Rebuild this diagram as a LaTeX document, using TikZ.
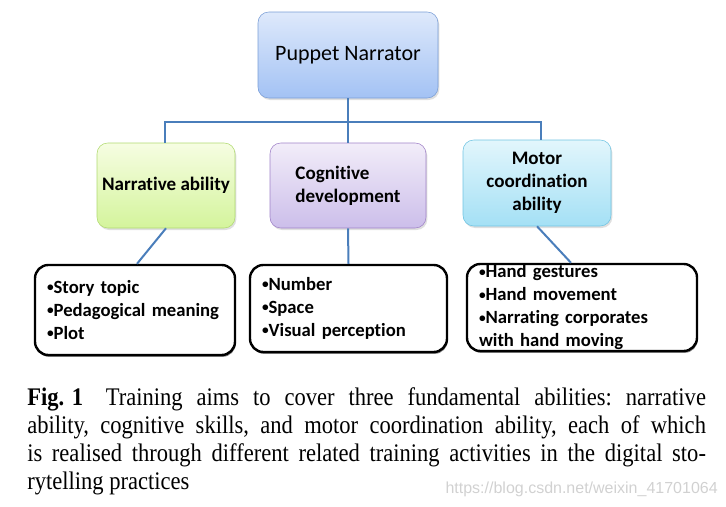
\documentclass[tikz,border=0pt]{standalone}
\usepackage{fontspec}
\setmainfont{Liberation Serif}
\newfontfamily\capfont{Liberation Serif}[FakeStretch=0.89]
\newfontfamily\boxfont{Carlito}[Ligatures=NoCommon]
\newfontfamily\markfont{Liberation Sans}
\usetikzlibrary{shadows}

\definecolor{linkblue}{RGB}{74,126,187}
\definecolor{skytop}{RGB}{222,233,251}
\definecolor{skybot}{RGB}{163,194,244}
\definecolor{skyline}{RGB}{122,158,214}
\definecolor{limetop}{RGB}{246,253,226}
\definecolor{limebot}{RGB}{212,244,156}
\definecolor{limeline}{RGB}{176,218,112}
\definecolor{liltop}{RGB}{242,237,249}
\definecolor{lilbot}{RGB}{204,190,234}
\definecolor{lilline}{RGB}{160,130,200}
\definecolor{cyantop}{RGB}{226,246,252}
\definecolor{cyanbot}{RGB}{164,224,245}
\definecolor{cyanline}{RGB}{112,196,226}

% small bullet as in the list boxes
\newcommand\dotmark{\raisebox{0.1em}{\fontsize{10}{10}\selectfont •}}

\begin{document}
\begin{tikzpicture}[x=0.75pt,y=0.75pt,yscale=-1,xscale=1,
  ability/.style={rounded corners=8pt, inner sep=2pt, align=center,
    font=\boxfont\bfseries\fontsize{14.3}{17.25}\selectfont,
    drop shadow={shadow xshift=1pt, shadow yshift=-1.5pt, opacity=0.25}},
  actlist/.style={draw, line width=1.8pt, rounded corners=10pt, fill=white,
    inner xsep=9pt, inner ysep=0pt, align=left,
    font=\boxfont\bfseries\fontsize{14}{17.25}\selectfont,
    drop shadow={shadow xshift=0.6pt, shadow yshift=-1.4pt, opacity=1}},
  link/.style={draw=linkblue, line width=1.5pt}]
\useasboundingbox (0,0) rectangle (726,507);

% Top node
\node [ability, font=\boxfont\fontsize{16.5}{19}\selectfont, draw=skyline, top color=skytop, bottom color=skybot,
  minimum width=135pt, minimum height=64.5pt] (narrator) at (348,55) {Puppet Narrator};

% Abilities
\node [ability, draw=limeline, top color=limetop, bottom color=limebot,
  minimum width=103.5pt, minimum height=63.75pt] (narrative) at (166,185.5) {Narrative ability};
\node [ability, align=left, draw=lilline, top color=liltop, bottom color=lilbot,
  minimum width=117pt, minimum height=63.75pt] (cognitive) at (348,185.5) {Cognitive\\development};
\node [ability, draw=cyanline, top color=cyantop, bottom color=cyanbot,
  minimum width=111pt, minimum height=64.5pt] (motor) at (537,183) {Motor\\coordination\\ability};

% Activities
\node [actlist, text width=132pt, minimum height=67.5pt] (storylist) at (135,310)
  {\dotmark Story topic\\\dotmark Pedagogical meaning\\\dotmark Plot};
\node [actlist, text width=129.75pt, minimum height=65.25pt] (numberlist) at (348.5,308.5)
  {\dotmark Number\\\dotmark Space\\\dotmark Visual perception};
\node [actlist, text width=154.5pt, minimum height=65.25pt] (handlist) at (582,307.5)
  {\dotmark Hand gestures\\\dotmark Hand movement\\\dotmark Narrating corporates\\with hand moving};

% Connectors
\coordinate (hub) at (348,122);
\draw [link] (narrator.south) -- (hub);
\draw [link] ([xshift=-0.75pt]narrative.north) |- (hub) -| ([xshift=3pt]motor.north);
\draw [link] (cognitive.north) -- (hub);
\draw [link] (narrative.south) -- ([xshift=1.5pt]storylist.north);
\draw [link] (cognitive.south) -- (numberlist.north);
\draw [link] (motor.south) -- ([xshift=-8.25pt]handlist.north);

% Caption
\node [anchor=north west, inner sep=0pt, text width=509pt, align=justify,
  font=\capfont\frenchspacing\fontsize{19}{21}\selectfont] (caption) at (27,387)
  {\textbf{Fig.\kern0.3em1}\hspace{0.9em}Training aims to cover three fundamental abilities: narrative\linebreak
   ability, cognitive skills, and motor coordination ability, each of which\linebreak
   is realised through different related training activities in the digital sto-\linebreak
   rytelling practices};
\node [anchor=east, inner sep=0pt, text=black!18, font=\markfont\fontsize{12}{14}\selectfont] (mark) at (718,489)
  {https://blog.csdn.net/weixin\_41701064};
\end{tikzpicture}
\end{document}
